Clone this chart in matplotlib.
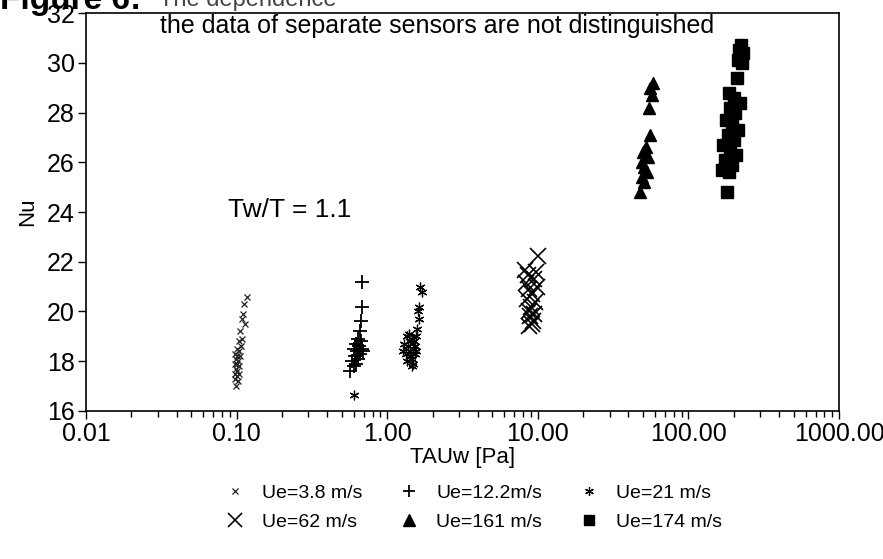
import numpy as np
import matplotlib
matplotlib.use("Agg")
import matplotlib.pyplot as plt
from matplotlib.ticker import FixedLocator, FormatStrFormatter, LogLocator, NullFormatter

plt.rcParams['font.family'] = ['Liberation Sans', 'DejaVu Sans']

# Ue = 3.8 m/s
tau_38 = [0.117, 0.112, 0.110, 0.108, 0.113, 0.106, 0.109, 0.104, 0.107, 0.100, 0.103,
          0.098, 0.101, 0.105, 0.099, 0.102, 0.097, 0.100, 0.104, 0.099, 0.101, 0.098,
          0.103, 0.100, 0.097, 0.102, 0.099]
nu_38 = [20.6, 20.3, 19.9, 19.7, 19.5, 19.2, 18.9, 18.8, 18.6, 18.5, 18.4,
         18.3, 18.2, 18.2, 18.1, 18.0, 17.9, 17.9, 17.8, 17.7, 17.6, 17.5,
         17.5, 17.4, 17.3, 17.2, 17.0]

# Ue = 12.2 m/s
tau_122 = [0.68, 0.68, 0.67, 0.66, 0.64, 0.67, 0.62, 0.65, 0.68, 0.60, 0.63, 0.66,
           0.69, 0.61, 0.64, 0.58, 0.62, 0.57, 0.60]
nu_122 = [21.2, 20.2, 19.6, 19.2, 18.9, 18.8, 18.7, 18.6, 18.5, 18.5, 18.4, 18.3,
          18.4, 18.2, 18.1, 18.0, 17.9, 17.6, 17.8]

# Ue = 21 m/s
tau_21 = [1.66, 1.70, 1.62, 1.60, 1.63, 1.58, 1.55, 1.35, 1.40, 1.45, 1.50, 1.30,
          1.38, 1.48, 1.42, 1.52, 1.33, 1.44, 1.56, 1.47, 1.36, 1.41, 1.53, 1.49,
          1.28, 1.46, 0.60]
nu_21 = [21.0, 20.8, 20.2, 20.0, 19.7, 19.3, 19.0, 19.0, 19.1, 18.9, 18.8, 18.7,
         18.6, 18.5, 18.4, 18.6, 18.3, 18.2, 18.4, 18.1, 18.0, 18.8, 18.3, 17.9,
         18.4, 17.8, 16.65]

# Ue = 62 m/s
tau_62 = [10.0, 8.2, 9.8, 8.6, 9.4, 8.4, 9.9, 8.8, 9.2, 8.5, 9.6, 9.0, 8.7, 9.5,
          8.9, 9.3, 9.1, 8.8]
nu_62 = [22.25, 21.65, 21.6, 21.45, 21.3, 21.15, 21.0, 20.9, 20.7, 20.5, 20.4, 20.2,
         20.0, 19.9, 19.8, 19.6, 19.5, 19.4]

# Ue = 161 m/s
tau_161 = [58, 56, 57, 55, 56, 52, 50, 54, 49, 51, 53, 49, 51, 48]
nu_161 = [29.2, 29.0, 28.7, 28.2, 27.1, 26.6, 26.4, 26.2, 26.0, 25.8, 25.6, 25.4,
          25.2, 24.8]

# Ue = 174 m/s
tau_174 = [225, 218, 230, 222, 215, 228, 210, 185, 200, 220, 190, 205, 178, 196,
           212, 182, 200, 170, 188, 208, 175, 195, 168, 185, 180]
nu_174 = [30.7, 30.5, 30.4, 30.2, 30.1, 30.0, 29.4, 28.8, 28.6, 28.4, 28.2, 28.0,
          27.7, 27.5, 27.3, 27.1, 26.9, 26.7, 26.5, 26.3, 26.1, 25.9, 25.7, 25.6, 24.8]

y_ticks = [16, 18, 20, 22, 24, 26, 28, 30, 32]
x_ticks = [0.01, 0.1, 1, 10, 100, 1000]

fig = plt.figure(figsize=(8.83, 5.59), dpi=100)
ax = fig.add_axes([0.0974, 0.2648, 0.8528, 0.7119])

h1, = ax.plot(tau_38, nu_38, ls='none', marker='x', ms=5, mew=0.9, color='#222222',
              label='Ue=3.8 m/s')
h2, = ax.plot(tau_122, nu_122, ls='none', marker='+', ms=10, mew=1.3, color='black',
              label='Ue=12.2m/s')
h3, = ax.plot(tau_21, nu_21, ls='none', marker=(6, 2, 0), ms=7, mew=0.9, color='black',
              label='Ue=21 m/s')
h4, = ax.plot(tau_62, nu_62, ls='none', marker='x', ms=11, mew=1.2, color='black',
              label='Ue=62 m/s')
h5, = ax.plot(tau_161, nu_161, ls='none', marker='^', ms=9, color='black',
              label='Ue=161 m/s')
h6, = ax.plot(tau_174, nu_174, ls='none', marker='s', ms=8, color='black',
              label='Ue=174 m/s')

ax.set_xscale('log')
ax.set_xlim(0.01, 1000)
ax.set_ylim(16, 32)
ax.xaxis.set_major_locator(FixedLocator(x_ticks))
ax.xaxis.set_major_formatter(FormatStrFormatter('%.2f'))
ax.xaxis.set_minor_locator(LogLocator(base=10, subs=np.arange(2, 10)))
ax.xaxis.set_minor_formatter(NullFormatter())
ax.set_yticks(y_ticks)

ax.tick_params(axis='both', direction='out', labelsize=18, length=6, width=1, pad=2)
ax.tick_params(axis='x', which='minor', direction='out', length=4, width=1)
for s in ax.spines.values():
    s.set_linewidth(1.2)

ax.set_xlabel('TAUw [Pa]', fontsize=16, labelpad=1)
ax.set_ylabel('Nu', fontsize=16, labelpad=6)

ax.text(0.098, 0.967, 'the data of separate sensors are not distinguished',
        transform=ax.transAxes, fontsize=18, va='center', ha='left')
ax.text(0.088, 24.1, 'Tw/T = 1.1', fontsize=19, va='center', ha='left')

fig.text(0.0, 1.0, 'Figure 6:', fontsize=24, fontweight='bold', va='center', ha='left')
fig.text(0.18, 1.0, 'The dependence', fontsize=17, color='#444444', va='center', ha='left')

handles = [h1, h4, h2, h5, h3, h6]
fig.legend(handles=handles, labels=[h.get_label() for h in handles], ncol=3,
           loc='center', bbox_to_anchor=(0.535, 0.092), frameon=False, fontsize=14,
           handlelength=1.2, handletextpad=0.8, columnspacing=1.8, labelspacing=0.6,
           markerscale=0.9)

fig.savefig('out.png', dpi=100)
